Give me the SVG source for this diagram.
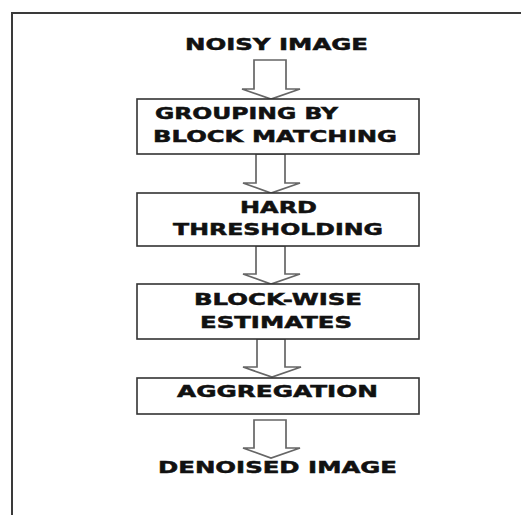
<svg xmlns="http://www.w3.org/2000/svg" width="521" height="515" viewBox="0 0 521 515">
  <style>
    .frame { fill: none; stroke: #3a3a3a; stroke-width: 2; }
    .box { fill: #ffffff; stroke: #333333; stroke-width: 1.6; }
    .arrow { fill: #ffffff; stroke: #666666; stroke-width: 1.7; stroke-linejoin: miter; }
    .label { font-family: "DejaVu Sans", Verdana, sans-serif; font-weight: bold; font-size: 16.5px; fill: #111111; stroke: #111111; stroke-width: 0.5; }
  </style>
  <rect width="521" height="515" fill="#ffffff"/>

  <!-- outer frame, running off the right and bottom edges -->
  <path class="frame" d="M12,530 V13 H540"/>

  <!-- block arrows between the stages -->
  <g id="connectors">
    <path class="arrow" d="M254,60 H286 V89 H300 L271,99 L242,89 H254 Z"/>
    <path class="arrow" d="M256,154 H285 V183 H300 L271,193 L243,183 H256 Z"/>
    <path class="arrow" d="M256,246 H285 V274 H300 L271,284 L243,274 H256 Z"/>
    <path class="arrow" d="M257,339 H285 V367 H301 L272,377 L243,367 H257 Z"/>
    <path class="arrow" d="M254,420 H286 V448 H300 L271,458 L243,448 H254 Z"/>
  </g>

  <g id="noisy-image">
    <text class="label" x="185" y="50" textLength="183" lengthAdjust="spacingAndGlyphs">NOISY IMAGE</text>
  </g>

  <g id="grouping">
    <rect class="box" x="137" y="99" width="282" height="55"/>
    <text class="label" x="155" y="119" textLength="183" lengthAdjust="spacingAndGlyphs">GROUPING BY</text>
    <text class="label" x="153" y="142" textLength="244" lengthAdjust="spacingAndGlyphs">BLOCK MATCHING</text>
  </g>

  <g id="hard-thresholding">
    <rect class="box" x="137" y="193" width="282" height="53"/>
    <text class="label" x="240" y="213" textLength="77" lengthAdjust="spacingAndGlyphs">HARD</text>
    <text class="label" x="173" y="235" textLength="210" lengthAdjust="spacingAndGlyphs">THRESHOLDING</text>
  </g>

  <g id="block-wise-estimates">
    <rect class="box" x="137" y="284" width="282" height="55"/>
    <text class="label" x="194" y="305" textLength="168" lengthAdjust="spacingAndGlyphs">BLOCK-WISE</text>
    <text class="label" x="200" y="328" textLength="152" lengthAdjust="spacingAndGlyphs">ESTIMATES</text>
  </g>

  <g id="aggregation">
    <rect class="box" x="137" y="378" width="282" height="36"/>
    <text class="label" x="177" y="397" textLength="201" lengthAdjust="spacingAndGlyphs">AGGREGATION</text>
  </g>

  <g id="denoised-image">
    <text class="label" x="158" y="473" textLength="239" lengthAdjust="spacingAndGlyphs">DENOISED IMAGE</text>
  </g>
</svg>
